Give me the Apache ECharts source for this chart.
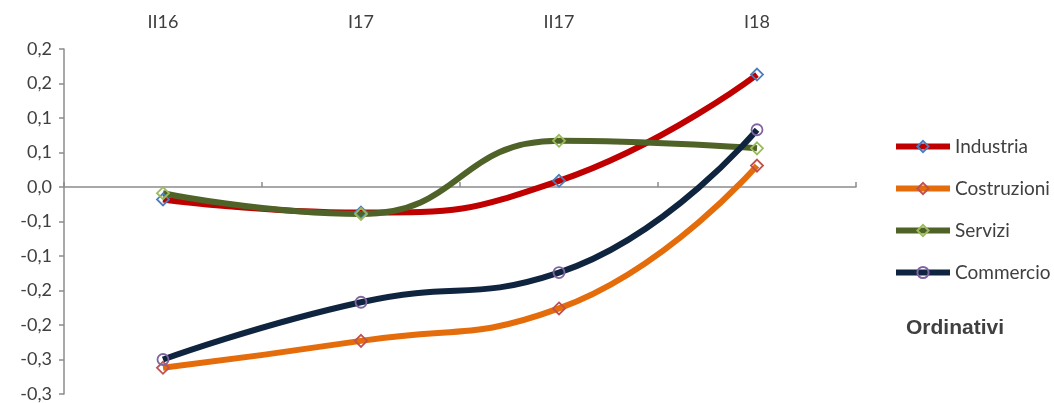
<!DOCTYPE html>
<html><head><meta charset="utf-8">
<script src="https://cdn.jsdelivr.net/npm/echarts@6/dist/echarts.min.js"></script>
<style>html,body{margin:0;padding:0;background:#fff}#c{width:1054px;height:403px}</style>
</head><body><div id="c"></div>
<script>
const categories = ['II16', 'I17', 'II17', 'I18'];
const industria = [-0.018, -0.037, 0.009, 0.163];
const costruzioni = [-0.262, -0.223, -0.176, 0.031];
const servizi = [-0.009, -0.039, 0.067, 0.056];
const commercio = [-0.25, -0.167, -0.124, 0.083];
const yTickLabels = ['-0,3', '-0,3', '-0,2', '-0,2', '-0,1', '-0,1', '0,0', '0,1', '0,1', '0,2', '0,2'];
const yMin = -0.3, yMax = 0.2, yStep = 0.05;

const FONT = 'Lato';
function mk(name, data, color, markColor, symbol) {
  return {
    name, type: 'line', data, smooth: 0.5, xAxisIndex: 0,
    symbol, symbolSize: symbol === 'circle' ? 11 : 12,
    lineStyle: { color, width: 6 },
    itemStyle: { color: 'rgba(0,0,0,0)', borderColor: markColor, borderWidth: 1.8 },
    emphasis: { disabled: true }, z: 2
  };
}
const chart = echarts.init(document.getElementById('c'));
chart.setOption({
  animation: false,
  grid: { left: 64, right: 198, top: 49, bottom: 8, containLabel: false },
  xAxis: [
    { type: 'category', data: categories, position: 'bottom', boundaryGap: true,
      axisLine: { onZero: true, lineStyle: { color: '#8c8c8c', width: 1.5 } },
      axisTick: { show: true, inside: true, length: 5, lineStyle: { color: '#8c8c8c', width: 1.5 } },
      axisLabel: { show: false }, splitLine: { show: false } },
    { type: 'category', data: categories, position: 'top', boundaryGap: true,
      axisLine: { show: false }, axisTick: { show: false },
      axisLabel: { show: true, color: '#404040', fontFamily: FONT, fontSize: 18, margin: 18 },
      splitLine: { show: false } }
  ],
  yAxis: {
    type: 'value', min: yMin, max: yMax, interval: yStep,
    axisLine: { show: true, lineStyle: { color: '#8c8c8c', width: 1.5 } },
    axisTick: { show: true, length: 5, lineStyle: { color: '#8c8c8c', width: 1.5 } },
    splitLine: { show: false },
    axisLabel: { color: '#404040', fontFamily: FONT, fontSize: 18, margin: 12,
      formatter: v => yTickLabels[Math.round((v - yMin) / yStep)] }
  },
  legend: {
    orient: 'vertical', left: 893, top: 137, padding: 0, itemWidth: 54, itemHeight: 14, itemGap: 23,
    lineStyle: { width: 6 },
    textStyle: { color: '#404040', fontFamily: FONT, fontSize: 19, padding: [0, 0, 0, 0] },
    data: ['Industria', 'Costruzioni', 'Servizi', 'Commercio']
  },
  graphic: [{ type: 'text', left: 906, top: 318,
    style: { text: 'Ordinativi', fill: '#404040', font: 'bold 21px "Liberation Sans"' } }],
  series: [
    mk('Industria', industria, '#c00000', '#4a7ebb', 'diamond'),
    mk('Costruzioni', costruzioni, '#e46c0a', '#c0504d', 'diamond'),
    mk('Servizi', servizi, '#4f6228', '#9bbb59', 'diamond'),
    mk('Commercio', commercio, '#0f243e', '#8064a2', 'circle')
  ]
});
</script></body></html>
